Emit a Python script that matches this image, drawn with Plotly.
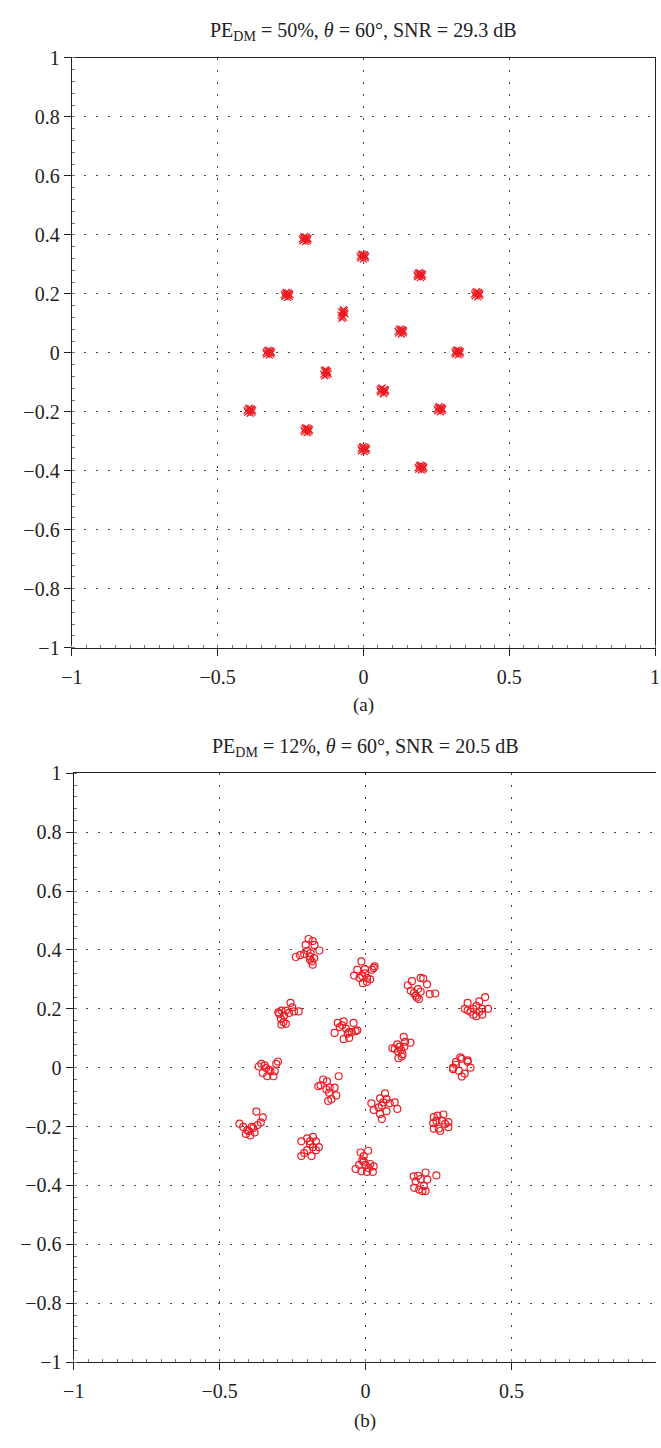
import plotly.graph_objects as go

# ---------------- data ----------------
top_x = [
    -0.200,-0.194,-0.205,-0.192,-0.207,-0.198,-0.202,-0.190,-0.209,-0.196,
    -0.002,0.004,-0.007,0.006,-0.009,0.000,-0.004,0.008,-0.011,0.002,
    0.193,0.199,0.188,0.201,0.186,0.195,0.191,0.203,0.184,0.197,
    0.390,0.396,0.385,0.398,0.383,0.392,0.388,0.400,0.381,0.394,
    -0.262,-0.256,-0.267,-0.254,-0.269,-0.260,-0.264,-0.252,-0.271,-0.258,
    -0.070,-0.065,-0.075,-0.063,-0.077,-0.068,-0.072,-0.066,-0.074,-0.069,
    0.128,0.134,0.123,0.136,0.121,0.130,0.126,0.138,0.119,0.132,
    -0.325,-0.319,-0.330,-0.317,-0.332,-0.323,-0.327,-0.315,-0.334,-0.321,
    0.323,0.329,0.318,0.331,0.316,0.325,0.321,0.333,0.314,0.327,
    -0.129,-0.123,-0.134,-0.121,-0.136,-0.127,-0.131,-0.125,-0.133,-0.128,
    0.066,0.072,0.061,0.074,0.059,0.068,0.064,0.076,0.057,0.070,
    -0.390,-0.384,-0.395,-0.382,-0.397,-0.388,-0.392,-0.380,-0.399,-0.386,
    0.262,0.268,0.257,0.270,0.255,0.264,0.260,0.272,0.253,0.266,
    -0.195,-0.189,-0.200,-0.187,-0.202,-0.193,-0.197,-0.185,-0.204,-0.191,
    0.001,0.007,-0.004,0.009,-0.006,0.003,-0.001,0.011,-0.008,0.005,
    0.197,0.203,0.192,0.205,0.190,0.199,0.195,0.207,0.188,0.201,
]
top_y = [
    0.385,0.389,0.391,0.381,0.380,0.377,0.394,0.387,0.386,0.392,
    0.326,0.330,0.332,0.322,0.321,0.318,0.335,0.328,0.327,0.333,
    0.263,0.267,0.269,0.259,0.258,0.255,0.272,0.265,0.264,0.270,
    0.198,0.202,0.204,0.194,0.193,0.190,0.207,0.200,0.199,0.205,
    0.196,0.200,0.202,0.192,0.191,0.188,0.205,0.198,0.197,0.203,
    0.140,0.143,0.138,0.132,0.128,0.120,0.124,0.135,0.117,0.146,
    0.072,0.076,0.078,0.068,0.067,0.064,0.081,0.074,0.073,0.079,
    0.000,0.004,0.006,-0.004,-0.005,-0.008,0.009,0.002,0.001,0.007,
    0.001,0.005,0.007,-0.003,-0.004,-0.007,0.010,0.003,0.002,0.008,
    -0.067,-0.063,-0.061,-0.071,-0.072,-0.075,-0.058,-0.065,-0.078,-0.060,
    -0.128,-0.124,-0.122,-0.132,-0.133,-0.136,-0.119,-0.126,-0.127,-0.139,
    -0.197,-0.193,-0.191,-0.201,-0.202,-0.205,-0.188,-0.195,-0.196,-0.190,
    -0.192,-0.188,-0.186,-0.196,-0.197,-0.200,-0.183,-0.190,-0.191,-0.185,
    -0.263,-0.259,-0.257,-0.267,-0.268,-0.271,-0.254,-0.261,-0.262,-0.256,
    -0.327,-0.323,-0.321,-0.331,-0.332,-0.335,-0.318,-0.325,-0.326,-0.320,
    -0.390,-0.386,-0.384,-0.394,-0.395,-0.398,-0.381,-0.388,-0.389,-0.383,
]

bottom_x = [
    -0.195,-0.181,-0.205,-0.175,-0.158,-0.199,-0.188,-0.210,-0.224,-0.239,-0.176,-0.192,-0.184,-0.181,-0.190,
    -0.014,-0.028,-0.002,-0.039,-0.011,0.005,0.016,-0.009,0.005,0.031,0.028,0.022,-0.002,-0.020,
    0.145,0.159,0.189,0.198,0.211,0.155,0.166,0.180,0.172,0.183,0.176,0.189,0.220,0.239,
    -0.257,-0.251,-0.229,-0.245,-0.288,-0.296,-0.279,-0.290,-0.281,-0.288,-0.273,-0.262,-0.273,-0.299,
    -0.095,-0.075,-0.041,-0.106,-0.088,-0.067,-0.056,-0.047,-0.034,-0.028,-0.075,-0.056,-0.080,-0.061,
    0.092,0.109,0.131,0.136,0.154,0.111,0.122,0.127,0.113,0.133,0.116,0.100,0.124,
    -0.357,-0.346,-0.300,-0.306,-0.366,-0.352,-0.337,-0.326,-0.311,-0.316,-0.331,-0.341,
    -0.162,-0.145,-0.132,-0.123,-0.106,-0.125,-0.100,-0.128,-0.117,-0.092,-0.154,-0.134,
    0.020,0.050,0.067,0.072,0.100,0.109,0.028,0.045,0.056,0.072,0.050,0.056,0.083,0.061,
    0.234,0.247,0.267,0.284,0.284,0.251,0.256,0.234,0.273,0.262,0.243,0.232,
    -0.017,0.009,-0.006,-0.011,-0.022,0.000,0.016,0.028,-0.034,-0.014,0.005,0.025,-0.006,0.011,
    0.165,0.180,0.206,0.212,0.243,0.167,0.184,0.195,0.206,0.200,0.172,0.189,
    0.350,0.370,0.390,0.400,0.410,0.380,0.360,0.390,0.400,0.370,0.340,0.420,0.380,0.350,
    0.300,0.310,0.330,0.350,0.320,0.340,0.330,0.300,0.360,0.310,0.350,0.325,
    -0.432,-0.419,-0.374,-0.352,-0.359,-0.390,-0.400,-0.380,-0.410,-0.370,-0.395,-0.385,-0.405,
    -0.220,-0.200,-0.180,-0.170,-0.190,-0.210,-0.200,-0.180,-0.160,-0.170,-0.190,-0.220,-0.185,
]
bottom_y = [
    0.437,0.430,0.417,0.417,0.398,0.397,0.389,0.386,0.382,0.376,0.372,0.378,0.361,0.350,0.367,
    0.361,0.333,0.335,0.313,0.311,0.305,0.300,0.287,0.291,0.344,0.339,0.333,0.320,0.305,
    0.280,0.294,0.305,0.303,0.283,0.261,0.253,0.267,0.244,0.233,0.238,0.258,0.250,0.252,
    0.220,0.205,0.191,0.191,0.194,0.183,0.177,0.166,0.155,0.146,0.149,0.186,0.194,0.188,
    0.152,0.157,0.152,0.118,0.138,0.133,0.121,0.121,0.124,0.127,0.097,0.101,0.144,0.116,
    0.066,0.079,0.105,0.088,0.085,0.055,0.060,0.046,0.032,0.071,0.071,0.064,0.038,
    0.013,0.008,0.021,0.013,0.004,-0.018,-0.029,-0.012,-0.012,-0.029,-0.007,-0.001,
    -0.063,-0.040,-0.046,-0.068,-0.068,-0.085,-0.094,-0.113,-0.107,-0.029,-0.060,-0.074,
    -0.121,-0.104,-0.087,-0.107,-0.118,-0.140,-0.144,-0.135,-0.129,-0.148,-0.157,-0.174,-0.121,-0.118,
    -0.168,-0.163,-0.159,-0.185,-0.202,-0.207,-0.215,-0.207,-0.191,-0.180,-0.180,-0.188,
    -0.288,-0.282,-0.300,-0.315,-0.330,-0.330,-0.327,-0.335,-0.344,-0.352,-0.354,-0.354,-0.319,-0.341,
    -0.369,-0.367,-0.356,-0.380,-0.366,-0.408,-0.414,-0.419,-0.419,-0.402,-0.386,-0.378,
    0.220,0.200,0.190,0.180,0.240,0.210,0.190,0.225,0.200,0.180,0.200,0.200,0.175,0.195,
    0.000,0.020,0.030,0.020,-0.010,-0.020,-0.030,-0.005,0.000,0.010,0.025,0.035,
    -0.190,-0.201,-0.149,-0.169,-0.186,-0.201,-0.215,-0.220,-0.225,-0.195,-0.230,-0.205,-0.212,
    -0.250,-0.240,-0.235,-0.250,-0.260,-0.290,-0.280,-0.270,-0.270,-0.280,-0.250,-0.300,-0.300,
]

x_tickvals = [-1, -0.5, 0, 0.5, 1]
x_ticktext = ["\u22121", "\u22120.5", "0", "0.5", "1"]
y_tickvals = [1, 0.8, 0.6, 0.4, 0.2, 0, -0.2, -0.4, -0.6, -0.8, -1]
y_ticktext_top = ["1", "0.8", "0.6", "0.4", "0.2", "0", "\u22120.2", "\u22120.4", "\u22120.6", "\u22120.8", "\u22121"]
y_ticktext_bottom = ["1", "0.8", "0.6", "0.4", "0.2", "0", "\u22120.2", "\u22120.4", "\u2212 0.6", "\u22120.8", "\u22121"]

title_top = "PE<sub>DM</sub> = 50%, <i>\u03b8</i> = 60\u00b0, SNR = 29.3 dB"
title_bottom = "PE<sub>DM</sub> = 12%, <i>\u03b8</i> = 60\u00b0, SNR = 20.5 dB"

# ---------------- figure ----------------
W, H = 661, 1448
RED = "rgb(236,28,36)"
FONT = "Liberation Serif"

def px_x(p):
    return p / W

def px_y(p):
    return 1 - p / H

fig = go.Figure()
fig.add_trace(go.Scatter(
    x=top_x, y=top_y, mode="markers", xaxis="x", yaxis="y", showlegend=False,
    marker=dict(symbol="x-thin-open", size=7, color=RED, line=dict(color=RED, width=1.2)),
))
fig.add_trace(go.Scatter(
    x=bottom_x, y=bottom_y, mode="markers", xaxis="x2", yaxis="y2", showlegend=False,
    marker=dict(symbol="circle-open", size=7, color=RED, line=dict(color=RED, width=1.2)),
))

axis_common = dict(
    showline=True, linecolor="#222", linewidth=1.3,
    ticks="outside", ticklen=7, tickcolor="#222", tickwidth=1.2,
    showgrid=True, gridcolor="#444", griddash="2px,10px", gridwidth=1,
    zeroline=False, ticklabeloverflow="allow",
    tickfont=dict(family=FONT, size=20, color="#222"),
    minor=dict(ticks="inside", ticklen=3, tickcolor="#777", showgrid=False),
)

top_dom_y = [px_y(646.5), px_y(47.7)]
bot_dom_y = [px_y(1372), px_y(774)]

fig.update_layout(
    width=W, height=H,
    margin=dict(l=0, r=0, t=0, b=0),
    paper_bgcolor="white", plot_bgcolor="white",
    xaxis=dict(axis_common, domain=[px_x(62.3), px_x(660)], range=[-1, 1], anchor="y",
               tickvals=x_tickvals, ticktext=x_ticktext, mirror=True, ticklabelstandoff=4,
               minor_dtick=0.05),
    yaxis=dict(axis_common, domain=top_dom_y, range=[-1, 1], anchor="x",
               tickvals=y_tickvals, ticktext=y_ticktext_top, mirror=True,
               minor_dtick=0.04),
    xaxis2=dict(axis_common, domain=[px_x(64.3), 1.0],
                range=[-1, -1 + (W - 64.3) / 299.0], anchor="y2",
                tickvals=x_tickvals, ticktext=x_ticktext, mirror=True, ticklabelstandoff=4,
                minor_dtick=0.05),
    yaxis2=dict(axis_common, domain=bot_dom_y, range=[-1, 1], anchor="x2",
                tickvals=y_tickvals, ticktext=y_ticktext_bottom, mirror=False,
                minor_dtick=0.04),
    annotations=[
        dict(text=title_top, x=px_x(361), y=px_y(21), xref="paper", yref="paper",
             showarrow=False, xanchor="center", yanchor="middle",
             font=dict(family=FONT, size=20, color="#222")),
        dict(text="(a)", x=px_x(361), y=px_y(705), xref="paper", yref="paper",
             showarrow=False, xanchor="center", yanchor="middle",
             font=dict(family=FONT, size=19, color="#222")),
        dict(text=title_bottom, x=px_x(363), y=px_y(748), xref="paper", yref="paper",
             showarrow=False, xanchor="center", yanchor="middle",
             font=dict(family=FONT, size=20, color="#222")),
        dict(text="(b)", x=px_x(363), y=px_y(1432), xref="paper", yref="paper",
             showarrow=False, xanchor="center", yanchor="middle",
             font=dict(family=FONT, size=19, color="#222")),
    ],
)

fig.write_html(
    "out.html",
    config={"displayModeBar": False},
    post_script="document.body.style.margin='0';document.body.style.overflow='hidden';",
)
